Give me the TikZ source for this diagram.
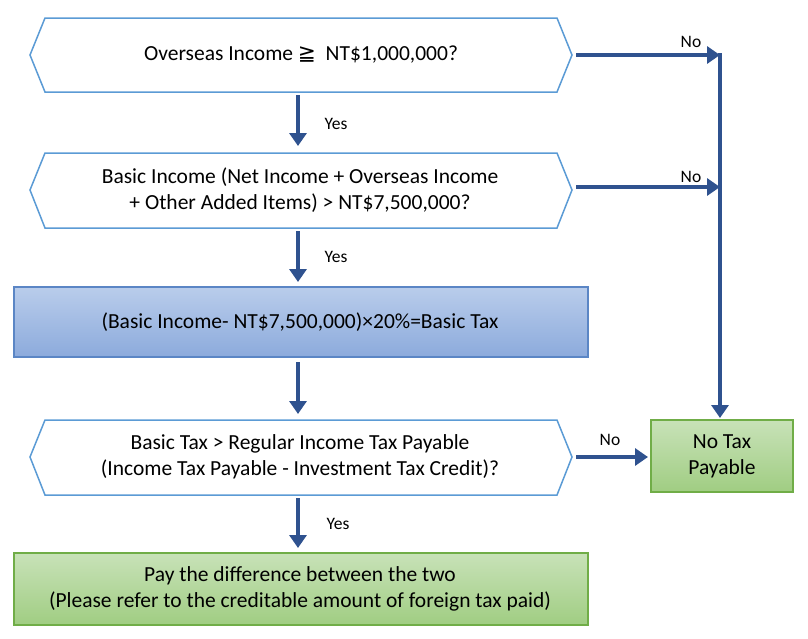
\documentclass[tikz,border=0pt]{standalone}
\usepackage{fontspec}
\setmainfont{Carlito}
\newfontfamily\dejavu{DejaVu Sans}
\usetikzlibrary{arrows.meta}
\definecolor{arr}{HTML}{2F528F}
\definecolor{hexb}{HTML}{5B9BD5}
\definecolor{grb}{HTML}{70AD47}
\definecolor{blb}{HTML}{5B86C5}
\definecolor{gtop}{HTML}{C8E2B8}
\definecolor{gbot}{HTML}{A0CD82}
\definecolor{btop}{HTML}{B9CDEB}
\definecolor{bbot}{HTML}{8CAADC}
\begin{document}
\begin{tikzpicture}[x=1pt,y=-1pt,
  txt/.style={font=\fontsize{21.5}{26}\selectfont,align=center},
  lbl/.style={font=\fontsize{17.5}{20}\selectfont},
  ar/.style={draw=arr,line width=3.6pt,-{Triangle[length=13pt,width=17pt]}},
  ln/.style={draw=arr,line width=3.6pt},
  hexs/.style={draw=hexb,line width=1.5pt,fill=white},
  grn/.style={draw=grb,line width=1.5pt,top color=gtop,bottom color=gbot},
  blu/.style={draw=blb,line width=1.5pt,top color=btop,bottom color=bbot}]
\useasboundingbox (0,0) rectangle (808,638);
\newcommand\hexa[3]{\path[hexs] (30,#2) -- (45,#1) -- (557,#1) -- (572,#2) -- (557,#3) -- (45,#3) -- cycle;}
\hexa{18}{55}{92}
\hexa{153}{190}{228}
\hexa{420}{457}{495}
\node[txt] (q1) at (301,55) {Overseas Income {\dejavu ≧} \ NT\$1,000,000?};
\node[txt] (q2) at (300,190) {Basic Income (Net Income + Overseas Income\\+ Other Added Items) > NT\$7,500,000?};
\path[blu] (14,287) rectangle (588,357);
\node[txt] (calc) at (300,322) {(Basic Income- NT\$7,500,000)×20\%=Basic Tax};
\node[txt] (q3) at (300,457) {Basic Tax > Regular Income Tax Payable\\(Income Tax Payable - Investment Tax Credit)?};
\path[grn] (14,553) rectangle (588,625);
\node[txt] (pay) at (300,589) {Pay the difference between the two\\(Please refer to the creditable amount of foreign tax paid)};
\path[grn] (651,420) rectangle (793,492);
\node[txt] (no) at (722,456) {No Tax\\Payable};
\coordinate (r1) at (720,55);
\coordinate (r2) at (720,187);
\coordinate (nt) at (720,418);
\draw[ar] (298,95) -- (298,146);
\draw[ar] (298,231) -- (298,282);
\draw[ar] (298,362) -- (298,414);
\draw[ar] (298,498) -- (298,548);
\draw[ar] (576,55) -- (r1);
\draw[ar] (576,187) -- (r2);
\draw[ln] (720,53.2) -- (720,405);
\draw[ar] (720,400) -- (nt);
\draw[ar] (576,457) -- (648,457);
\node[lbl] at (336,124) {Yes};
\node[lbl] at (336,257) {Yes};
\node[lbl] at (338,524) {Yes};
\node[lbl] at (691,42) {No};
\node[lbl] at (691,177) {No};
\node[lbl] at (610,440) {No};
\end{tikzpicture}
\end{document}
